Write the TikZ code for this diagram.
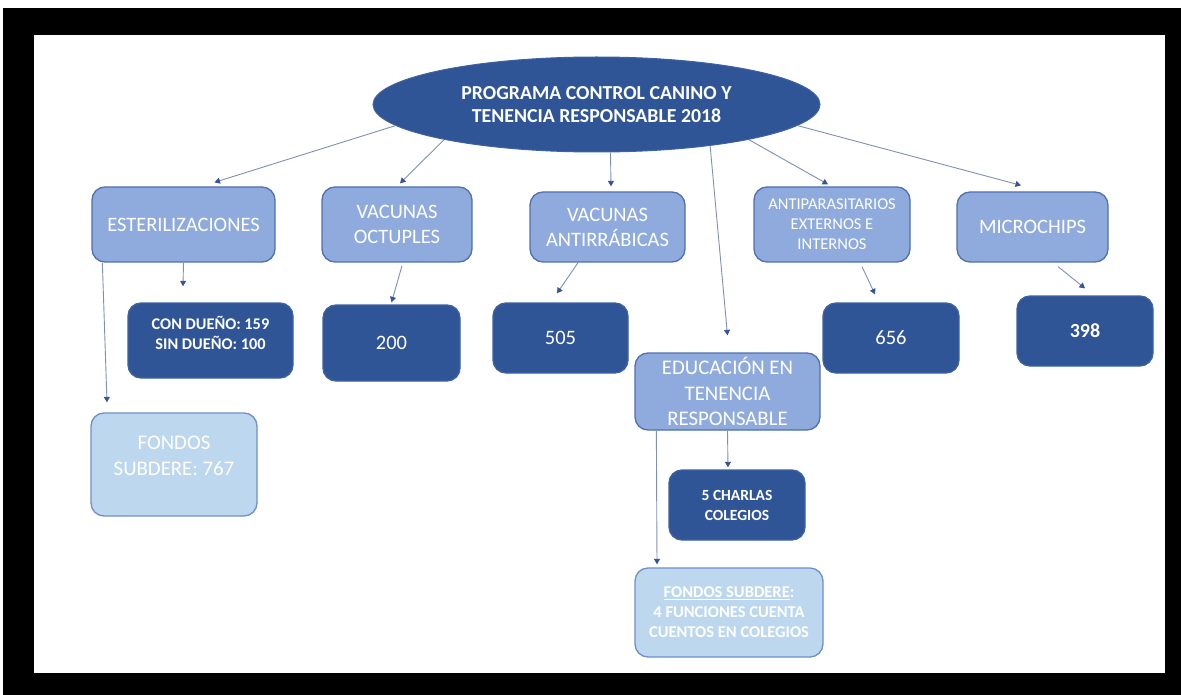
\documentclass[tikz,border=0pt]{standalone}
\usepackage{fontspec}
\setmainfont{Carlito}
\usetikzlibrary{shapes.geometric,arrows.meta,calc}
\definecolor{dkb}{HTML}{2F5597}
\definecolor{dkbd}{HTML}{3E62A3}
\definecolor{medb}{HTML}{8FAADC}
\definecolor{medbd}{HTML}{4F71B0}
\definecolor{ltb}{HTML}{BDD7EE}
\definecolor{ltbd}{HTML}{6F8FC8}
\definecolor{arrc}{HTML}{7F90B8}
\definecolor{headc}{HTML}{34559A}
\tikzset{
  base/.style={rounded corners=13pt, line width=1.3pt, text=white, align=center, inner sep=2pt},
  medbox/.style={base, fill=medb, draw=medbd},
  darkbox/.style={base, fill=dkb, draw=dkbd},
  litebox/.style={base, fill=ltb, draw=ltbd},
  sz/.style 2 args={minimum width=#1pt, minimum height=#2pt},
  fbig/.style={font=\fontsize{20.5}{25}\selectfont},
  fsmall/.style={font=\fontsize{16.5}{20}\selectfont},
  fsmallb/.style={font=\fontsize{15.5}{20}\selectfont\bfseries},
  arr/.style={draw=arrc, line width=0.9pt, -{Triangle[length=5.5pt,width=6pt,color=headc,fill=headc]}},
}
\begin{document}
\begin{tikzpicture}[x=1pt,y=-1pt]
\useasboundingbox (0,0) rectangle (1181,695);
\fill[white] (0,0) rectangle (1181,695);
\fill[black] (3,8) rectangle (1181,695);
\fill[white] (34,35) rectangle (1165,673);

% main ellipse
\node[ellipse, fill=dkb, draw=dkbd, line width=1pt, inner sep=0, minimum width=447pt, minimum height=95pt,
      text=white, align=center, font=\fontsize{19.8}{23}\selectfont\bfseries] (main) at (596.5,104.5)
  {PROGRAMA CONTROL CANINO Y\\TENENCIA RESPONSABLE 2018};

% first level
\node[medbox, sz={183}{75}, fbig] (est) at (183.5,224.5) {ESTERILIZACIONES};
\node[medbox, sz={150}{75}, fbig] (oct) at (397,224.5) {VACUNAS\\OCTUPLES};
\node[medbox, sz={155}{70}, fbig] (rab) at (607.5,227) {VACUNAS\\ANTIRRÁBICAS};
\node[medbox, sz={156}{75}, fsmall] (par) at (832,224.5) {ANTIPARASITARIOS\\EXTERNOS E\\INTERNOS};
\node[medbox, sz={151}{70}, fbig] (mic) at (1032.5,227) {MICROCHIPS};

% second level
\node[darkbox, sz={165}{75}, font=\fontsize{16.3}{20}\selectfont\bfseries, text depth=16pt] (con) at (210.5,340.5) {CON DUEÑO: 159\\SIN DUEÑO: 100};
\node[darkbox, sz={137}{76}, fbig] (n200) at (391.5,343) {200};
\node[darkbox, sz={135}{70}, fbig] (n505) at (560.5,338) {505};
\node[medbox, sz={185}{77}, font=\fontsize{20.8}{25.5}\selectfont] (edu) at (727.5,391.5) {EDUCACIÓN EN\\TENENCIA\\RESPONSABLE};
\node[darkbox, sz={136}{70}, fbig] (n656) at (891,338) {656};
\node[darkbox, sz={136}{70}, font=\fontsize{20}{25}\selectfont\bfseries] (n398) at (1085,331) {398};

% third level
\node[litebox, sz={166}{103}, font=\fontsize{20.8}{26.5}\selectfont, text depth=18pt] (fon1) at (174,464.5) {FONDOS\\SUBDERE: 767};
\node[darkbox, sz={136}{70}, fsmallb] (cha) at (737,505) {5 CHARLAS\\COLEGIOS};
\node[litebox, sz={188}{89}, font=\fontsize{16.5}{20}\selectfont\bfseries] (fon2) at (729,612.5) {\underline{FONDOS SUBDERE}:\\4 FUNCIONES CUENTA\\CUENTOS EN COLEGIOS};

% connectors
\draw[arr] (main.186) -- ([xshift=31pt,yshift=4pt]est.north);
\draw[arr] (main.193) -- ([xshift=3pt,yshift=3pt]oct.north);
\draw[arr] ([xshift=14pt]main.south) -- ([xshift=3.5pt,yshift=5pt]rab.north);
\draw[arr] (main.340) -- ([yshift=17pt]edu.north);
\draw[arr] (main.347) -- ([xshift=-4pt,yshift=2pt]par.north);
\draw[arr] (main.354) -- ([xshift=-11.5pt,yshift=6pt]mic.north);

\draw[arr] (est.south) -- ([xshift=-27.5pt,yshift=16pt]con.north);
\draw[arr] ([xshift=11pt]est.south west) -- ([xshift=-67pt,yshift=10pt]fon1.north);
\draw[arr] ([xshift=5pt,yshift=-3pt]oct.south) -- ([yshift=2pt]n200.north);
\draw[arr] ([xshift=-29.5pt]rab.south) -- ([xshift=-3.5pt,yshift=9pt]n505.north);
\draw[arr] ([xshift=30pt,yshift=-4pt]par.south) -- ([xshift=-16pt,yshift=8pt]n656.north);
\draw[arr] ([xshift=25.5pt,yshift=-4pt]mic.south) -- ([yshift=7pt]n398.north);
\draw[arr] (edu.south) -- ([xshift=-9pt,yshift=2pt]cha.north);
\draw[arr] ([xshift=22pt]edu.south west) -- ([xshift=-72pt,yshift=3pt]fon2.north);
\end{tikzpicture}
\end{document}
